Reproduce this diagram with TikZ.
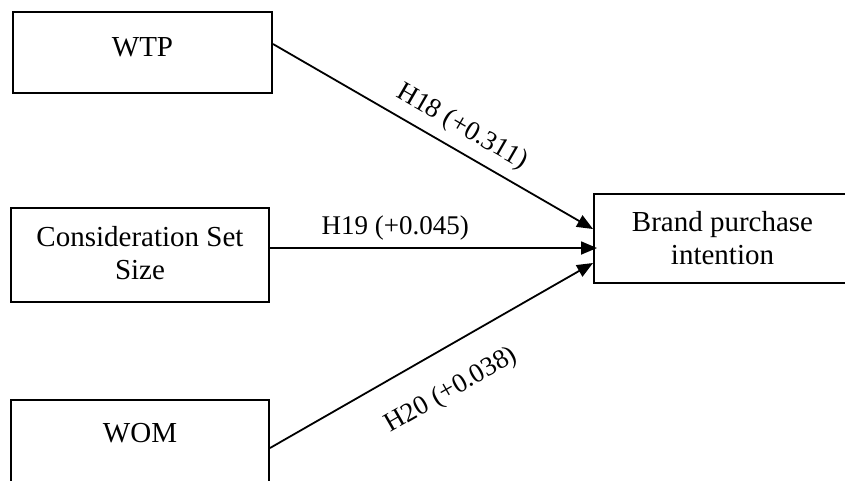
\documentclass[tikz,border=0pt]{standalone}
\usepackage{fontspec}
\setmainfont{Liberation Serif}
\usetikzlibrary{arrows.meta}

\begin{document}
\begin{tikzpicture}
[
x=1pt, y=-1pt,
factor/.style={
	draw=black,
	line width=2pt,
	rectangle,
	align=center,
	inner sep=0pt,
	font=\fontsize{29}{33}\selectfont},
coef/.style={
	font=\fontsize{27}{31}\selectfont},
regArr/.style={
	-{Triangle[length=16pt,width=13pt]},
	line width=1.8pt}
]
\useasboundingbox (0,0) rectangle (845,480);

%antecedents
\node[factor, minimum width=259pt, minimum height=81pt, text depth=11pt] (wtp) at (142.5,52.5) {WTP};
\node[factor, minimum width=258pt, minimum height=94pt, text depth=4pt] (css) at (140,255) {Consideration Set\\Size};
\node[factor, minimum width=258pt, minimum height=90pt, text depth=24pt] (wom) at (140,445) {WOM};

%outcome
\node[factor, minimum width=257pt, minimum height=89pt] (bpi) at (722.5,238.5) {Brand purchase\\intention};

%paths
\draw [regArr] ([yshift=8.5pt]wtp.east) -- node[coef, pos=0.555, sloped, above=6pt] {H18 (+0.311)} ([yshift=9.5pt]bpi.west);
\draw [regArr] ([yshift=7pt]css.east) -- node[coef, pos=0.383, above=4pt] {H19 (+0.045)} ([xshift=4pt,yshift=-9.5pt]bpi.west);
\draw [regArr] ([yshift=-3pt]wom.east) -- node[coef, pos=0.5, sloped, below=24pt] {H20 (+0.038)} ([yshift=-24.5pt]bpi.west);

\end{tikzpicture}
\end{document}
